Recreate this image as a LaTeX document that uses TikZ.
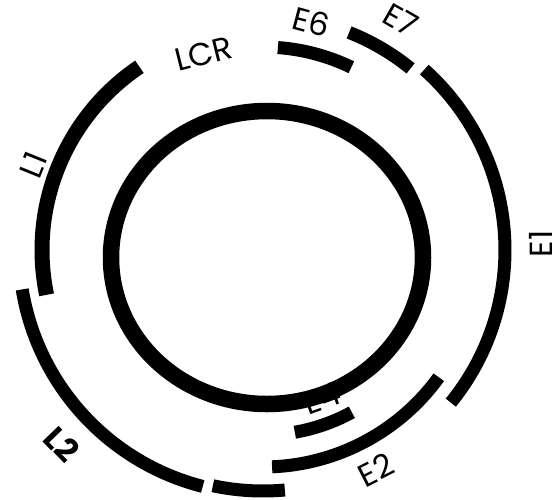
\documentclass[tikz,border=0pt]{standalone}
\usepackage{fontspec}
\setmainfont{Poppins}

\tikzstyle{gene}=[line width=13pt]
\tikzstyle{ring}=[line width=16.5pt]
\tikzstyle{glabel}=[font=\fontsize{32}{32}\selectfont,inner sep=0pt]

\begin{document}
\begin{tikzpicture}[x=1pt,y=1pt]
  \useasboundingbox (0,0) rectangle (554,-499);
  \coordinate (c) at (263,-250);
  % E4 label lies under the ring
  \node[glabel,rotate=20] (lE4) at (322,-398) {E4};
  \draw[ring] (267,-257.5) ellipse [x radius=156, y radius=146.5];
  % genes
  \draw[gene] ([shift={(85.8:203)}]c) arc[start angle=85.8, end angle=64.2, radius=203];
  \draw[gene] ([shift={(68.4:234)}]c) arc[start angle=68.4, end angle=50.9, radius=234];
  \draw[gene] ([shift={(48.2:242)}]c) arc[start angle=48.2, end angle=-39.1, radius=242];
  \draw[gene] ([shift={(-35.9:217)}]c) arc[start angle=-35.9, end angle=-87.6, radius=217];
  \draw[gene] ([shift={(-61.3:185)}]c) arc[start angle=-61.3, end angle=-80.1, radius=185];
  \draw[gene] ([shift={(-84.8:241)}]c) arc[start angle=-84.8, end angle=-102, radius=241];
  \draw[gene] ([shift={(-104.3:244)}]c) arc[start angle=-104.3, end angle=-170.7, radius=244];
  \draw[gene,line width=15pt] ([shift={(191.7:221)}]c) arc[start angle=191.7, end angle=124, radius=221];
  % labels
  \node[glabel,rotate=-15] (lE6) at (311,-22) {E6};
  \node[glabel,rotate=-30] (lE7) at (401,-20) {E7};
  \node[glabel,rotate=90] (lE1) at (541,-244) {E1};
  \node[glabel,rotate=27] (lE2) at (376,-470) {E2};
  \node[glabel,rotate=-46,font=\fontsize{32}{32}\selectfont\bfseries] (lL2) at (62,-444) {L2};
  \node[glabel,rotate=68] (lL1) at (33,-165) {L1};
  \node[glabel,rotate=14] (lLCR) at (204,-54) {LCR};
\end{tikzpicture}
\end{document}
